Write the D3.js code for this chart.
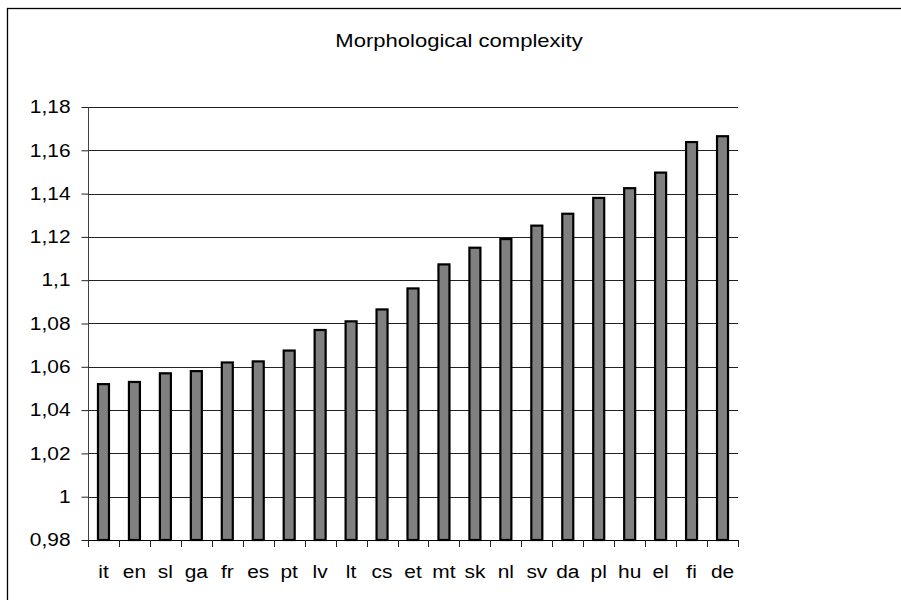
<!DOCTYPE html>
<html>
<head>
<meta charset="utf-8">
<script src="https://cdn.jsdelivr.net/npm/d3@7"></script>
<style>
  body { margin: 0; background: #fff; }
  text { font-family: "Liberation Sans", Arial, sans-serif; fill: #000; }
</style>
</head>
<body>
<script>
const languages = ['it','en','sl','ga','fr','es','pt','lv','lt','cs','et','mt','sk','nl','sv','da','pl','hu','el','fi','de'];
const complexity = [1.052,1.053,1.057,1.058,1.062,1.0625,1.0675,1.077,1.081,1.0865,1.0962,1.1073,1.115,1.119,1.1252,1.1307,1.138,1.1425,1.1497,1.1638,1.1665];
const yTicks = [0.98,1,1.02,1.04,1.06,1.08,1.1,1.12,1.14,1.16,1.18];

const width = 901, height = 600;
const plotLeft = 88, plotRight = 738, plotTop = 107, plotBottom = 540;
const sx = 1.16; // the reference text looks stretched horizontally

const svg = d3.select('body').append('svg')
    .attr('width', width)
    .attr('height', height);

// outer frame (only top and left visible in reference)
svg.append('rect')
    .attr('x', 7.5).attr('y', 8.5)
    .attr('width', width).attr('height', height)
    .attr('fill', 'none')
    .attr('stroke', '#000')
    .attr('stroke-width', 1.3);

const x = d3.scaleBand().domain(languages).range([plotLeft, plotRight]);
const y = d3.scaleLinear().domain([0.98, 1.18]).range([plotBottom, plotTop]);

// gridlines
svg.append('g')
  .selectAll('line')
  .data(yTicks.slice(1))
  .enter().append('line')
    .attr('x1', plotLeft).attr('x2', plotRight)
    .attr('y1', d => Math.round(y(d)) + 0.5)
    .attr('y2', d => Math.round(y(d)) + 0.5)
    .attr('stroke', '#222');

// y axis
const yAxis = svg.append('g')
    .attr('transform', `translate(${plotLeft + 0.5},0)`)
    .call(d3.axisLeft(y).tickValues(yTicks).tickSize(7).tickPadding(11)
      .tickFormat(d => String(+d.toFixed(2)).replace('.', ',')));
yAxis.select('.domain').attr('stroke', '#444').attr('d', `M0,${plotTop}V${plotBottom + 6}`);
yAxis.selectAll('.tick line').attr('stroke', '#222');
yAxis.selectAll('.tick text')
    .attr('font-size', 18)
    .attr('x', null)
    .attr('transform', `translate(-18,0) scale(${sx},1)`);

// bars
const barW = 11;
svg.append('g')
  .selectAll('rect')
  .data(languages)
  .enter().append('rect')
    .attr('x', (d) => x(d) + x.bandwidth() / 2 - barW / 2)
    .attr('y', (d, i) => y(complexity[i]))
    .attr('width', barW)
    .attr('height', (d, i) => y(0.98) - y(complexity[i]))
    .attr('fill', '#808080')
    .attr('stroke', '#000')
    .attr('stroke-width', 2.2);

// x axis: baseline, boundary ticks, labels
const xAxis = svg.append('g')
    .attr('transform', `translate(0,${plotBottom})`)
    .call(d3.axisBottom(x).tickSize(0).tickPadding(25));
xAxis.select('.domain').attr('stroke', '#000').attr('d', `M${plotLeft},0.5H${plotRight}`);
xAxis.selectAll('.tick text')
    .attr('font-size', 18)
    .attr('transform', `scale(${sx},1)`);

svg.append('g')
  .selectAll('line')
  .data(languages.map(d => x(d)).concat([plotRight]))
  .enter().append('line')
    .attr('x1', d => Math.round(d) + 0.5).attr('x2', d => Math.round(d) + 0.5)
    .attr('y1', plotBottom).attr('y2', plotBottom + 7)
    .attr('stroke', '#222');

// title
svg.append('text')
    .attr('transform', `translate(459,47) scale(${sx},1)`)
    .attr('text-anchor', 'middle')
    .attr('font-size', 19)
    .text('Morphological complexity');
</script>
</body>
</html>
